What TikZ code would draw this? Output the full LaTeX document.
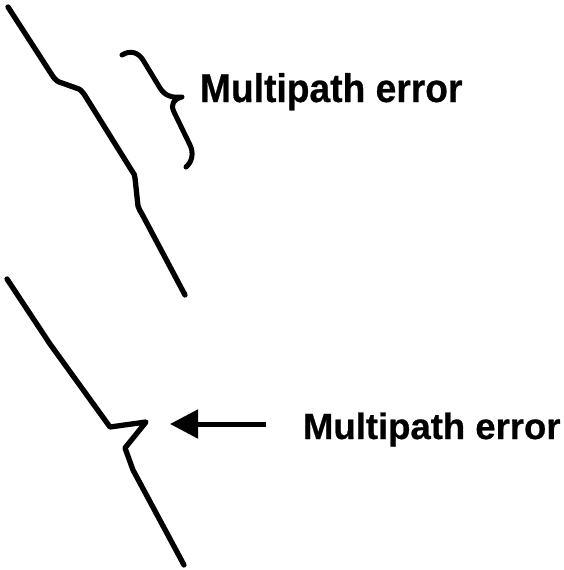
\documentclass[tikz,border=0pt]{standalone}
\usepackage{fontspec}
\setmainfont{Liberation Sans}[BoldFeatures={FakeBold=0.6}]
\usetikzlibrary{arrows.meta}
\tikzset{
  curve/.style={line width=5.3pt, line join=round, line cap=round},
  label/.style={anchor=base west, inner sep=0pt, outer sep=0pt, font=\bfseries},
}
\begin{document}
\begin{tikzpicture}[x=1pt,y=-1pt]
\useasboundingbox (0,0) rectangle (563,570);
% top trace
\draw[curve] (8,7) -- (52,75) .. controls (55,80) and (58,82) .. (62,83)
  -- (76,88) .. controls (80,89) and (82,91) .. (84,94)
  -- (132,171) .. controls (134,174) and (135,175) .. (135,178)
  -- (138,206) .. controls (139,209) and (140,211) .. (142,214)
  -- (185,295);
% brace
\draw[line width=5pt, line cap=round, line join=round]
  (122,55) .. controls (130,50) and (138,52) .. (143,60) -- (160,88)
  .. controls (165,96) and (172,98) .. (182,97)
  .. controls (174,99) and (170,104) .. (174,112) -- (190,145)
  .. controls (194,153) and (192,162) .. (186,167);
\node[label] (t1) at (200,102) {\fontsize{40}{40}\selectfont\scalebox{0.93}[1]{Multipath error}};
% bottom trace
\draw[curve] (7,279) -- (50,344) -- (110,427) -- (146,422) -- (125,448)
  -- (133,470) -- (184,565);
\coordinate (as) at (266,424);
\coordinate (ae) at (170,424);
\draw[line width=5pt, -{Triangle[length=28pt,width=28pt]}] (as) -- (ae);
\node[label] (t2) at (303,439) {\fontsize{36.5}{36.5}\selectfont Multipath error};
\end{tikzpicture}
\end{document}
